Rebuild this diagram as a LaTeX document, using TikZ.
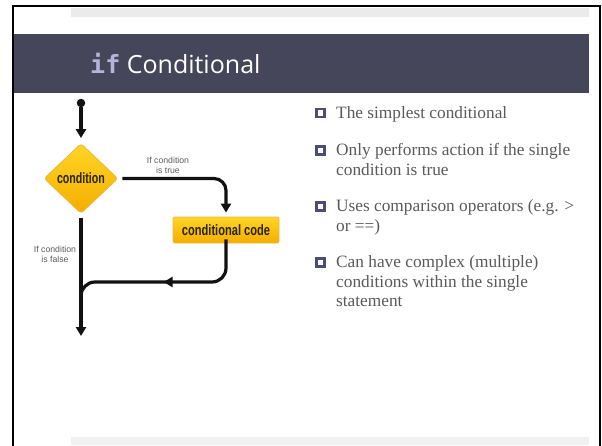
\documentclass[tikz,border=0pt]{standalone}
\usepackage{graphicx}
\usepackage{fontspec}
\setmainfont{Liberation Serif}
\newfontfamily\titlefont{Open Sans}
\newfontfamily\codefont{DejaVu Sans Mono}
\newfontfamily\chartfont{Liberation Sans}
\usetikzlibrary{shapes.geometric,arrows.meta,decorations.markings}

\definecolor{titlebg}{HTML}{45465A}
\definecolor{iflav}{HTML}{B6B4D8}
\definecolor{topbar}{HTML}{EBEBEB}
\definecolor{botbar}{HTML}{F1F1F1}
\definecolor{ink}{HTML}{111111}
\definecolor{shapetext}{HTML}{2B2306}
\definecolor{yellowtop}{HTML}{FFD526}
\definecolor{yellowbot}{HTML}{F3AE00}
\definecolor{yellowrim}{HTML}{EDB840}
\definecolor{labelgray}{HTML}{5C5C5C}
\definecolor{bodygray}{HTML}{5A5A5A}
\definecolor{markblue}{HTML}{4B4B7C}

\begin{document}
\begin{tikzpicture}[x=1pt,y=-1pt,
  flowline/.style={draw=ink,line width=3.2pt},
  flowarrow/.style={flowline,-{Triangle[width=10pt,length=9pt]}},
  decision/.style={diamond,minimum width=74pt,minimum height=70pt,inner sep=0pt,
    rounded corners=3pt,top color=yellowtop,bottom color=yellowbot,draw=yellowrim,
    line width=0.8pt,text=shapetext,font=\chartfont\bfseries\fontsize{15}{17}\selectfont},
  process/.style={rectangle,minimum width=106pt,minimum height=26pt,inner sep=0pt,
    rounded corners=2pt,top color=yellowtop,bottom color=yellowbot,draw=yellowrim,
    line width=0.8pt,text=shapetext,font=\chartfont\bfseries\fontsize{15}{17}\selectfont},
  branchlabel/.style={align=center,inner sep=0pt,text=labelgray,
    font=\chartfont\fontsize{8.7}{10}\selectfont},
  bulletmark/.style={rectangle,minimum size=8pt,inner sep=0pt,draw=markblue,
    line width=2.6pt,fill=white},
  bullettext/.style={anchor=base west,inner sep=0pt,text=bodygray,
    font=\fontsize{17.3}{19.5}\selectfont}]

\useasboundingbox (0,0) rectangle (602,445);
\fill[white] (0,0) rectangle (602,445);

% slide decorations
\fill[topbar] (71,8) rectangle (589,17);
\fill[botbar] (71,437) rectangle (589,445);
\fill[titlebg] (14,34) rectangle (589,93);
\draw[line width=2.5pt] (13,447) -- (13,6) -- (600,6) -- (600,447);

% title
\node[anchor=base west,inner sep=0pt,text=white,
  font=\titlefont\fontsize{25}{30}\selectfont] (title) at (90,73)
  {{\codefont\bfseries\color{iflav}if} Conditional};

% flowchart
\node[circle,fill=ink,inner sep=0pt,minimum size=8.5pt] (start) at (81,103) {};
\node[decision] (cond) at (81,178.5) {\scalebox{0.71}[1]{condition}};
\node[process] (cc) at (226,230) {\scalebox{0.74}[1]{conditional code}};
\coordinate (merge) at (81,282);
\coordinate (join) at (81,300);
\coordinate (finish) at (81,336);

\draw[flowarrow,shorten >=5pt] (start) -- (cond.north);
\draw[flowarrow,rounded corners=12pt,shorten >=4pt]
  ([xshift=4pt]cond.east) -| (cc.north);
\draw[flowarrow,shorten <=4pt] (cond.south) -- (finish);
\draw[flowline,rounded corners=14pt,
  postaction={decorate},
  decoration={markings,
    mark=at position 99pt with {\arrow{Triangle[width=10pt,length=9pt]}}}]
  ([yshift=4pt]cc.south) |- (merge) -- (join);

\node[branchlabel] (ltrue) at (168,165) {If condition\\is true};
\node[branchlabel] (lfalse) at (55,254.5) {If condition\\is false};

% bullet list
\node[bulletmark] (m1) at (320.5,113) {};
\node[bullettext] (t1) at (336,118)
  {\begin{tabular}[t]{@{}l@{}}The simplest conditional\end{tabular}};
\node[bulletmark] (m2) at (320.5,150.5) {};
\node[bullettext] (t2) at (336,155.5)
  {\begin{tabular}[t]{@{}l@{}}Only performs action if the single\\condition is true\end{tabular}};
\node[bulletmark] (m3) at (320.5,206.5) {};
\node[bullettext] (t3) at (336,211.5)
  {\begin{tabular}[t]{@{}l@{}}Uses comparison operators (e.g. >\\or ==)\end{tabular}};
\node[bulletmark] (m4) at (320.5,262.5) {};
\node[bullettext] (t4) at (336,267.5)
  {\begin{tabular}[t]{@{}l@{}}Can have complex (multiple)\\conditions within the single\\statement\end{tabular}};

\end{tikzpicture}
\end{document}
